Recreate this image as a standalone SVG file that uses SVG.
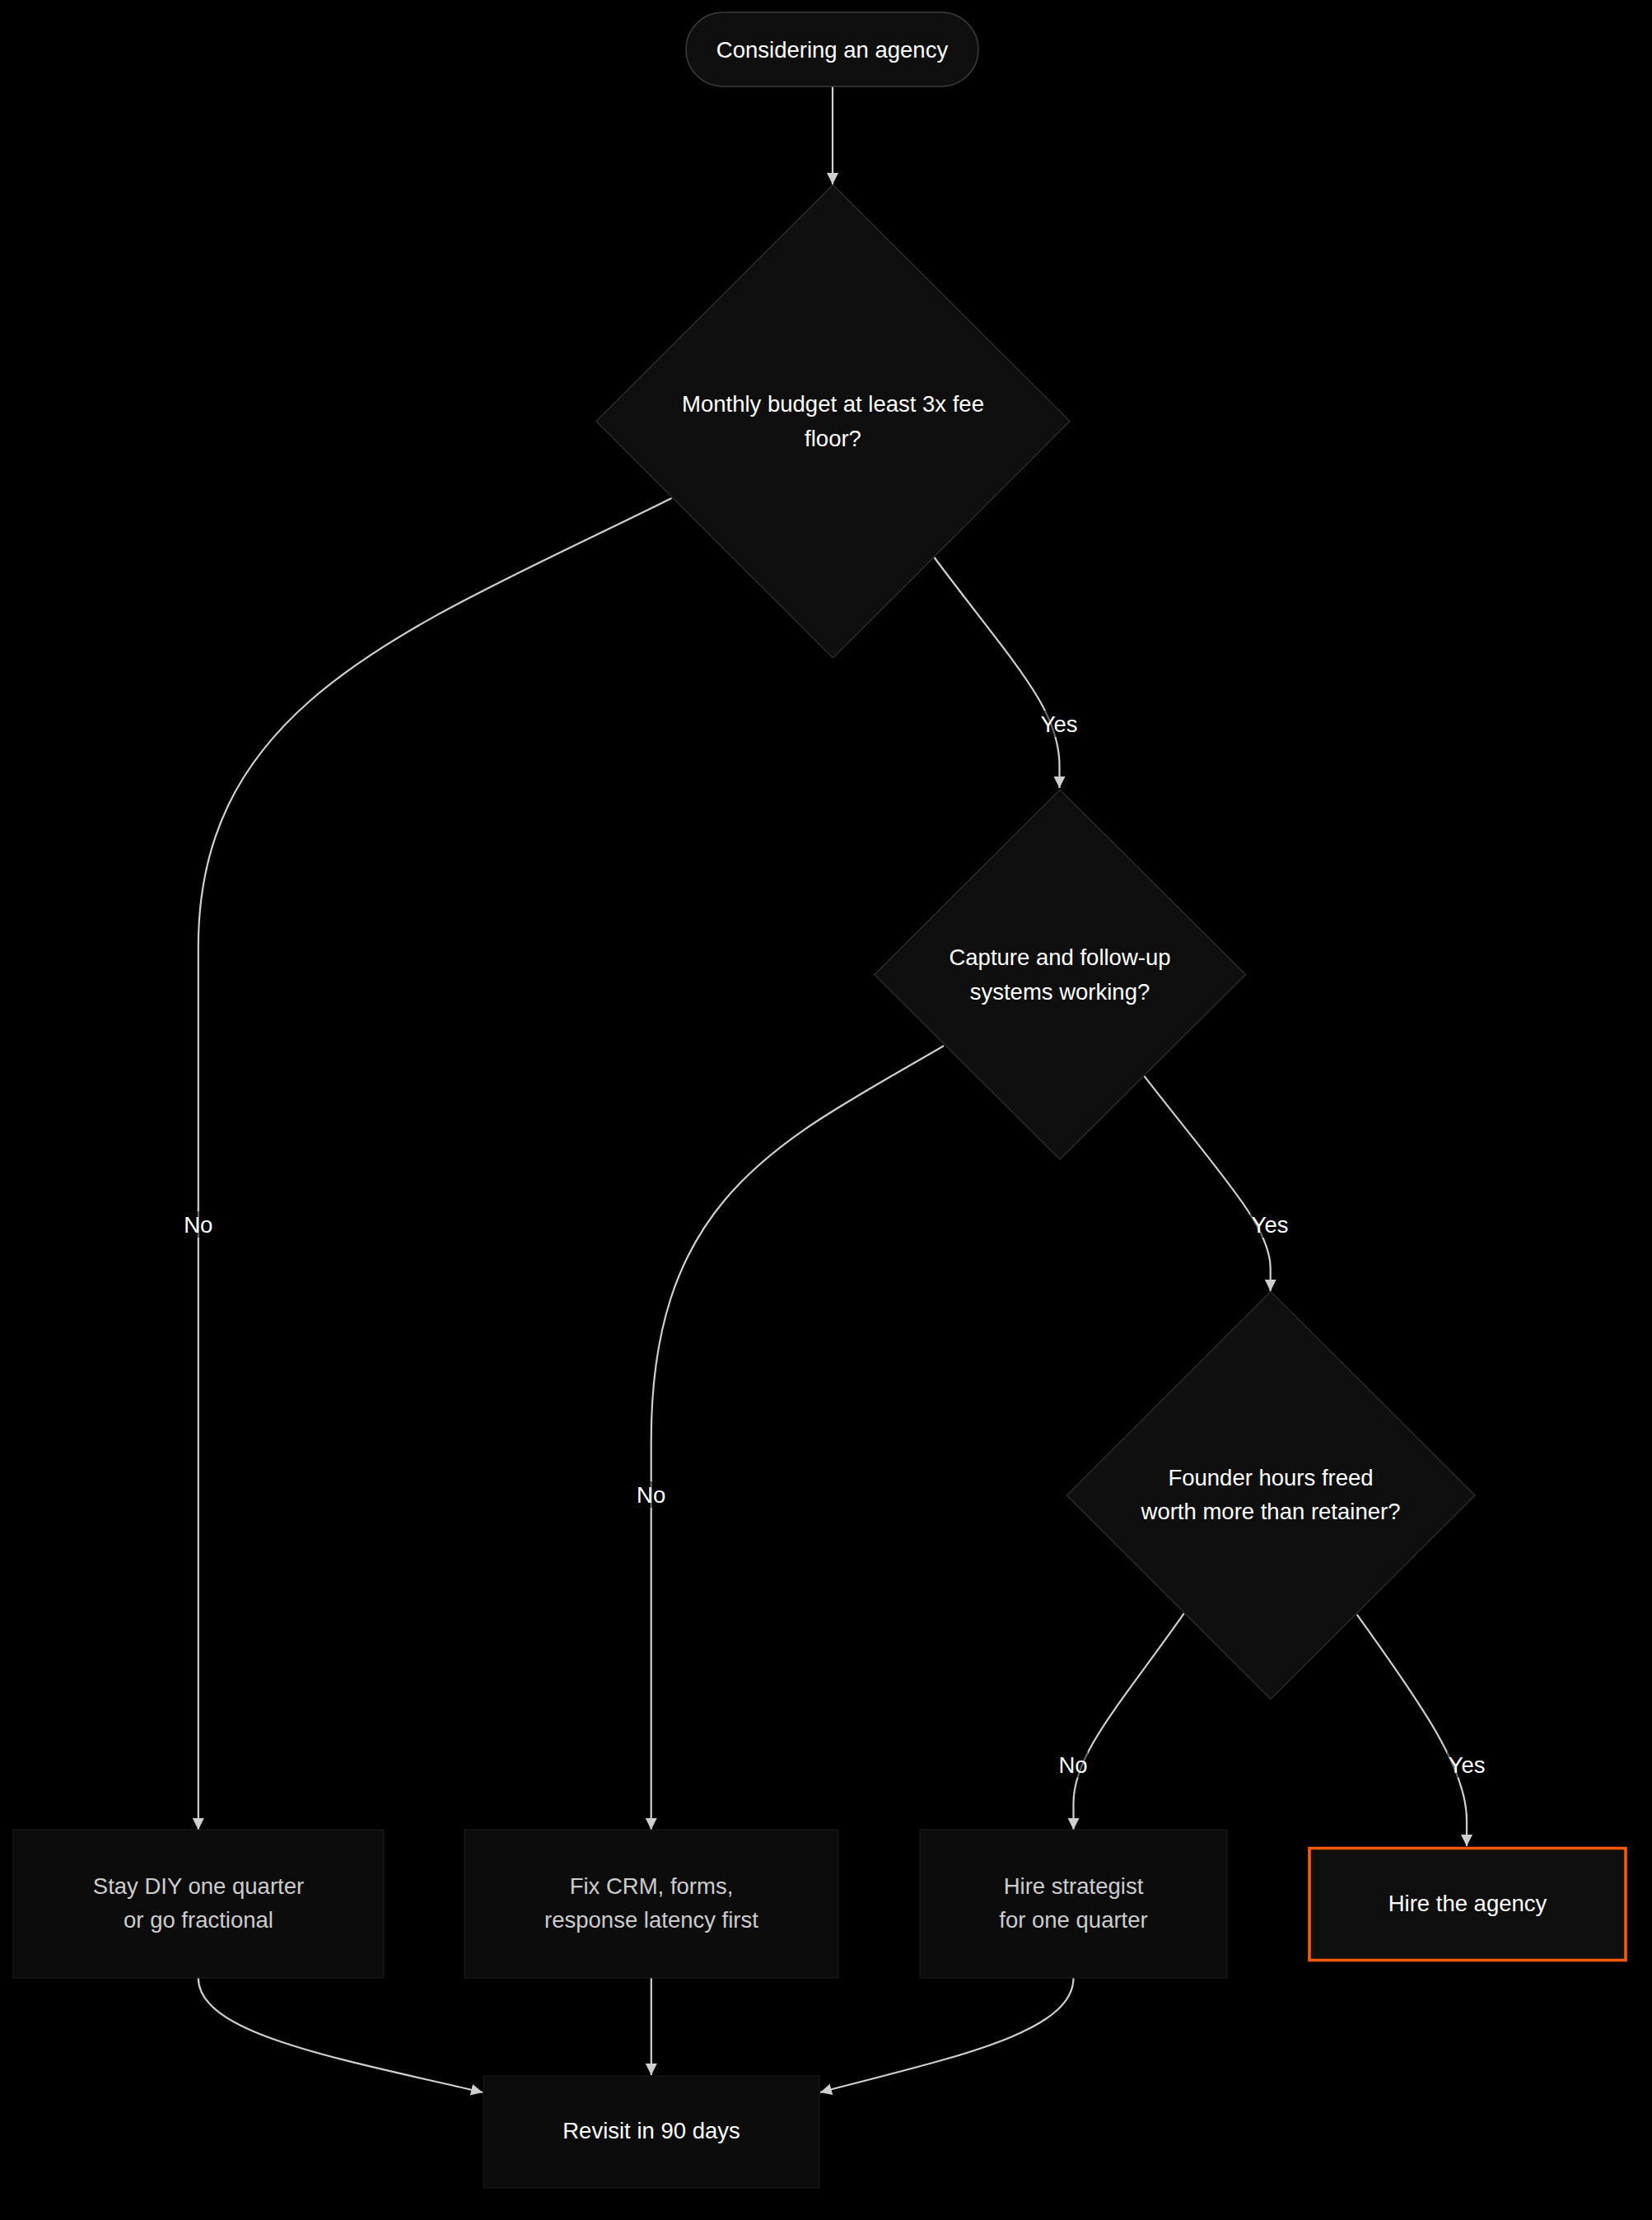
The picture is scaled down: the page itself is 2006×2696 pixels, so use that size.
<svg xmlns="http://www.w3.org/2000/svg" width="2006" height="2696" viewBox="0 0 2006 2696">
<style>
  text { font-family: "Liberation Sans", Arial, sans-serif; font-size: 27.5px; text-anchor: middle; }
  .t { fill: #ffffff; }
  .g { fill: #cccccc; }
  .dia { fill: #0f0f0f; stroke: #2a2a2a; stroke-width: 1.5; }
  .box { fill: #0c0c0c; stroke: #1c1c1c; stroke-width: 1; }
  .edge { fill: none; stroke: #cfcfcf; stroke-width: 2.2; marker-end: url(#arr); }
  .lbg { fill: #000000; fill-opacity: 0.5; }
</style>
<defs>
  <marker id="arr" viewBox="0 0 10 10" refX="10" refY="5" markerWidth="14" markerHeight="14" markerUnits="userSpaceOnUse" orient="auto">
    <path d="M0,0 L10,5 L0,10 z" fill="#cfcfcf"/>
  </marker>
</defs>
<rect x="0" y="0" width="2006" height="2696" fill="#000000"/>

<g id="connectors">
  <path class="edge" d="M1011,105 L1011,224"/>
  <path class="edge" d="M815.5,605 C500,762 240.8,850 240.8,1150 L240.8,2222"/>
  <path class="edge" d="M1134.5,677 C1230,805 1286.5,860 1286.5,930 L1286.5,957"/>
  <path class="edge" d="M1146,1270 C950,1385 790.7,1450 790.7,1750 L790.7,2222"/>
  <path class="edge" d="M1389.3,1306.7 C1485,1430 1542.7,1490 1542.7,1540 L1542.7,1568"/>
  <path class="edge" d="M1437.7,1959.4 C1360,2070 1303.5,2130 1303.5,2190 L1303.5,2222"/>
  <path class="edge" d="M1647.8,1960.8 C1730,2075 1781,2150 1781,2210 L1781,2242"/>
  <path class="edge" d="M240.8,2402 C240.8,2470 410,2500 586,2541"/>
  <path class="edge" d="M790.8,2402 L790.8,2520"/>
  <path class="edge" d="M1303.5,2402 C1303.5,2470 1150,2500 996,2541"/>

  <g id="lbl-no1"><rect class="lbg" x="223" y="1471" width="36" height="32"/><text class="t" x="240.8" y="1497">No</text></g>
  <g id="lbl-yes1"><rect class="lbg" x="1262" y="863" width="48" height="32"/><text class="t" x="1286" y="889">Yes</text></g>
  <g id="lbl-no2"><rect class="lbg" x="773" y="1799" width="36" height="32"/><text class="t" x="790.7" y="1825">No</text></g>
  <g id="lbl-yes2"><rect class="lbg" x="1518" y="1471" width="48" height="32"/><text class="t" x="1542" y="1497">Yes</text></g>
  <g id="lbl-no3"><rect class="lbg" x="1285" y="2127" width="36" height="32"/><text class="t" x="1303" y="2153">No</text></g>
  <g id="lbl-yes3"><rect class="lbg" x="1757" y="2127" width="48" height="32"/><text class="t" x="1781" y="2153">Yes</text></g>
</g>

<g id="start">
  <rect x="833" y="15" width="355" height="90" rx="45" ry="45" fill="#0f0f0f" stroke="#3a3a3a" stroke-width="1.5"/>
  <text class="t" x="1010.5" y="70">Considering an agency</text>
</g>

<g id="q-budget">
  <polygon class="dia" points="1011.5,224.5 1299,511.5 1011.5,799 724,511.5"/>
  <text class="t" x="1011.5" y="499.5">Monthly budget at least 3x fee</text>
  <text class="t" x="1011.5" y="541.5">floor?</text>
</g>

<g id="q-systems">
  <polygon class="dia" points="1287,959 1512.5,1183.5 1287,1408 1062,1183.5"/>
  <text class="t" x="1287" y="1172">Capture and follow-up</text>
  <text class="t" x="1287" y="1213.5">systems working?</text>
</g>

<g id="q-founder">
  <polygon class="dia" points="1543,1568.5 1791,1816 1543,2063.5 1295.5,1816"/>
  <text class="t" x="1543" y="1803.5">Founder hours freed</text>
  <text class="t" x="1543" y="1845">worth more than retainer?</text>
</g>

<g id="stay-diy">
  <rect class="box" x="16" y="2222" width="450" height="180"/>
  <text class="g" x="241" y="2300">Stay DIY one quarter</text>
  <text class="g" x="241" y="2341">or go fractional</text>
</g>

<g id="fix-crm">
  <rect class="box" x="564" y="2222" width="454" height="180"/>
  <text class="g" x="791" y="2300">Fix CRM, forms,</text>
  <text class="g" x="791" y="2341">response latency first</text>
</g>

<g id="hire-strategist">
  <rect class="box" x="1117" y="2222" width="373" height="180"/>
  <text class="g" x="1303.5" y="2300">Hire strategist</text>
  <text class="g" x="1303.5" y="2341">for one quarter</text>
</g>

<g id="hire-agency">
  <rect x="1590" y="2244.5" width="384" height="136" fill="#0f0f0f" stroke="#ff5a0a" stroke-width="3.5"/>
  <text class="t" x="1782" y="2321">Hire the agency</text>
</g>

<g id="revisit">
  <rect class="box" x="587" y="2521" width="408" height="136" fill="#0e0e0e" stroke="#222"/>
  <text class="t" x="791" y="2597">Revisit in 90 days</text>
</g>
</svg>
